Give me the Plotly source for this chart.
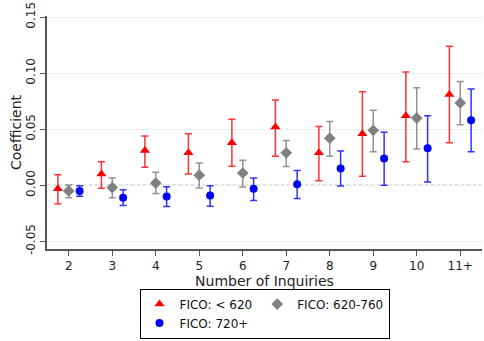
import plotly.graph_objects as go

# Categories: number of credit inquiries
inquiries = [2, 3, 4, 5, 6, 7, 8, 9, 10, 11]
tick_labels = ["2", "3", "4", "5", "6", "7", "8", "9", "10", "11+"]

# Coefficient axis ticks
y_ticks = [-0.05, 0.0, 0.05, 0.10, 0.15]
y_tick_labels = ["-0.05", "0.00", "0.05", "0.10", "0.15"]

# FICO < 620: point estimates and 95% CI bounds
low_coef = [-0.003, 0.010, 0.031, 0.029, 0.038, 0.052, 0.029, 0.046, 0.062, 0.081]
low_lo = [-0.0165, -0.0026, 0.016, 0.010, 0.017, 0.026, 0.004, 0.008, 0.021, 0.038]
low_hi = [0.0094, 0.021, 0.044, 0.046, 0.059, 0.076, 0.0525, 0.0835, 0.101, 0.124]

# FICO 620-760
mid_coef = [-0.005, -0.002, 0.002, 0.009, 0.011, 0.029, 0.042, 0.049, 0.060, 0.0735]
mid_lo = [-0.011, -0.011, -0.0074, -0.0023, -0.0014, 0.0167, 0.026, 0.030, 0.0324, 0.054]
mid_hi = [0.0003, 0.0065, 0.0116, 0.020, 0.0224, 0.040, 0.057, 0.067, 0.087, 0.0925]

# FICO 720+
high_coef = [-0.005, -0.011, -0.010, -0.009, -0.003, 0.001, 0.015, 0.024, 0.033, 0.058]
high_lo = [-0.0097, -0.018, -0.019, -0.0187, -0.0136, -0.0117, -0.0006, 0.000, 0.003, 0.030]
high_hi = [-0.0003, -0.004, -0.0012, -0.0003, 0.0065, 0.0133, 0.0307, 0.0474, 0.062, 0.086]

series = [
    ("FICO: < 620", low_coef, low_lo, low_hi, -0.25, "#ff0000", "rgba(255,0,0,0.8)", "triangle-up", 9, "a"),
    ("FICO: 620-760", mid_coef, mid_lo, mid_hi, 0.0, "#808080", "rgba(128,128,128,0.85)", "diamond", 9, "b"),
    ("FICO: 720+", high_coef, high_lo, high_hi, 0.25, "#0000ff", "rgba(0,0,255,0.8)", "circle", 8, "a"),
]

fig = go.Figure()
for name, coef, lo, hi, offset, color, ecolor, symbol, size, group in series:
    fig.add_trace(go.Scatter(
        x=[i + offset for i in inquiries],
        y=coef,
        mode="markers",
        name=name,
        legendgroup=group,
        marker=dict(color=color, symbol=symbol, size=size, line=dict(width=0)),
        error_y=dict(
            type="data",
            symmetric=False,
            array=[h - c for h, c in zip(hi, coef)],
            arrayminus=[c - l for c, l in zip(coef, lo)],
            color=ecolor,
            thickness=1.5,
            width=3.5,
        ),
    ))

# dotted reference line at zero
fig.add_shape(type="line", xref="paper", yref="y", x0=0, x1=1, y0=0, y1=0,
              line=dict(color="#555555", width=1, dash="dot"), layer="below")

font = dict(family="DejaVu Sans", size=12, color="#222222")

fig.update_layout(
    width=484, height=341,
    margin=dict(l=47, r=2, t=14, b=84),
    paper_bgcolor="white", plot_bgcolor="white",
    font=font,
    showlegend=True,
    legend=dict(
        orientation="h", traceorder="grouped", tracegroupgap=0,
        x=0.5, xanchor="center", y=-0.17, yanchor="top",
        bordercolor="#000000", borderwidth=1, bgcolor="white",
        font=dict(family="DejaVu Sans", size=12, color="#111111"),
        itemwidth=30,
    ),
    xaxis=dict(
        range=[1.5, 11.5],
        tickvals=inquiries, ticktext=tick_labels,
        ticks="outside", ticklen=5, tickcolor="#555555",
        showline=True, linecolor="#555555", linewidth=1.5,
        showgrid=False, zeroline=False,
        title=dict(text="Number of Inquiries", standoff=3),
        tickfont=dict(size=12),
    ),
    yaxis=dict(
        range=[-0.0568, 0.151],
        tickvals=y_ticks, ticktext=y_tick_labels, tickangle=-90,
        ticklabeloverflow="allow",
        ticks="outside", ticklen=5, tickcolor="#555555",
        showline=True, linecolor="#555555", linewidth=1.5,
        showgrid=True, gridcolor="#e6eef0", gridwidth=1,
        zeroline=False,
        title=dict(text="Coefficient", standoff=0),
        tickfont=dict(size=12),
    ),
)

fig.write_html("out.html")
